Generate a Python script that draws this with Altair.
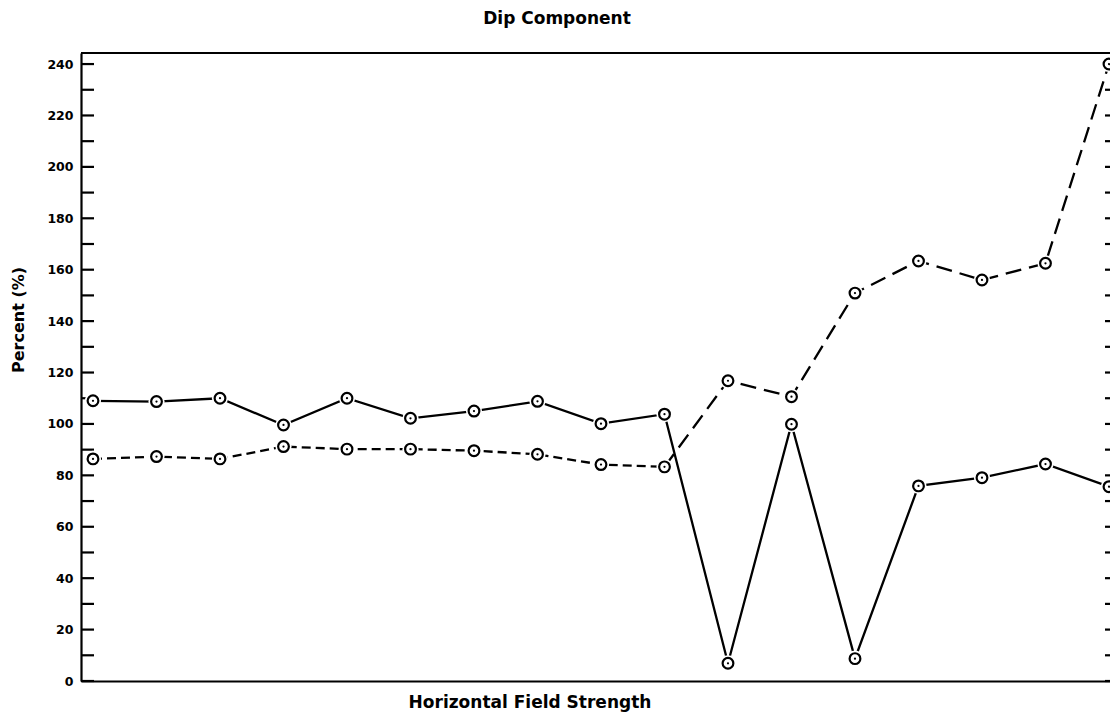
import altair as alt
import pandas as pd

# ---- data ----
x_index = list(range(17))
solid_pct = [109, 108.7, 110, 99.6, 110, 102.2, 105, 108.8, 100.1, 103.8,
             6.9, 99.9, 8.7, 75.9, 79.1, 84.4, 75.6]
dashed_pct = [86.4, 87.3, 86.4, 91.2, 90.2, 90.2, 89.6, 88.2, 84.2, 83.3,
              116.8, 110.6, 150.9, 163.4, 156, 162.5, 240]
y_label_values = list(range(0, 241, 20))
y_tick_values = list(range(0, 241, 10))

title_text = "Dip  Component"
x_title_text = "Horizontal  Field  Strength"
y_title_text = "Percent (%)"

FONT = "DejaVu Sans"
W, H = 1029, 628
XDOM = [-0.189, 16.016]
YDOM = [0, 244.3]

solid_df = pd.DataFrame({"i": x_index, "v": solid_pct})
dashed_df = pd.DataFrame({"i": x_index, "v": dashed_pct})
dashed_a = dashed_df[dashed_df["i"] <= 9]
dashed_b = dashed_df[dashed_df["i"] >= 9]
pts_df = pd.concat([solid_df, dashed_df], ignore_index=True)
ticks_df = pd.DataFrame({"v": y_tick_values})

xs = alt.Scale(domain=XDOM, nice=False, zero=False)
ys = alt.Scale(domain=YDOM, nice=False, zero=False)

x_axis = alt.Axis(ticks=False, labels=False, grid=False, domain=True,
                  domainWidth=2.2, domainColor="black", title=None)
y_axis = alt.Axis(values=y_label_values, ticks=False, grid=False, domain=True,
                  domainWidth=2.2, domainColor="black", labelFont=FONT,
                  labelFontSize=12.5, labelFontWeight="bold", labelColor="black",
                  labelPadding=8, title=None)

X = alt.X("i:Q", scale=xs, axis=x_axis)
Y = alt.Y("v:Q", scale=ys, axis=y_axis)

solid_line = alt.Chart(solid_df).mark_line(color="black", strokeWidth=2.3).encode(x=X, y=Y)
dash_line_a = alt.Chart(dashed_a).mark_line(color="black", strokeWidth=2.3,
                                             strokeDash=[9, 5]).encode(x=X, y=Y)
dash_line_b = alt.Chart(dashed_b).mark_line(color="black", strokeWidth=2.3,
                                             strokeDash=[16, 8]).encode(x=X, y=Y)

halo = alt.Chart(pts_df).mark_circle(color="white", opacity=1, size=260).encode(x=X, y=Y)
ring = alt.Chart(pts_df).mark_point(shape="circle", filled=True, fill="white",
                                    stroke="black", strokeWidth=2.2, opacity=1,
                                    size=115).encode(x=X, y=Y)
dot = alt.Chart(pts_df).mark_circle(color="black", opacity=1, size=5).encode(x=X, y=Y)

left_ticks = alt.Chart(ticks_df).mark_rule(color="black", strokeWidth=2.2).encode(
    y=Y, x=alt.value(0), x2=alt.value(13))
right_ticks = alt.Chart(ticks_df).mark_rule(color="black", strokeWidth=2.2).encode(
    y=Y, x=alt.value(W - 5), x2=alt.value(W))
top_border = alt.Chart(ticks_df).mark_rule(color="black", strokeWidth=2.2).encode(
    x=alt.value(0), x2=alt.value(W), y=alt.value(0))

title_mark = alt.Chart(ticks_df.head(1)).mark_text(
    text=title_text, font=FONT, fontSize=17, fontWeight="bold", color="black",
    align="center", baseline="alphabetic").encode(x=alt.value(476), y=alt.value(-29))
x_title_mark = alt.Chart(ticks_df.head(1)).mark_text(
    text=x_title_text, font=FONT, fontSize=17, fontWeight="bold", color="black",
    align="center", baseline="alphabetic").encode(x=alt.value(449), y=alt.value(655))
y_title_mark = alt.Chart(ticks_df.head(1)).mark_text(
    text=y_title_text, font=FONT, fontSize=16, fontWeight="bold", color="black",
    align="center", baseline="middle", angle=270).encode(x=alt.value(-62), y=alt.value(267))

chart = alt.layer(
    left_ticks, right_ticks, top_border,
    solid_line, dash_line_a, dash_line_b, halo, ring, dot,
    title_mark, x_title_mark, y_title_mark,
).properties(
    width=W, height=H,
    padding={"left": 73, "top": 45, "right": 0, "bottom": 35},
    autosize=alt.AutoSizeParams(type="none"),
    background="white",
).configure_view(stroke=None)

chart.save("out.html", embed_options={"renderer": "svg", "actions": False})
